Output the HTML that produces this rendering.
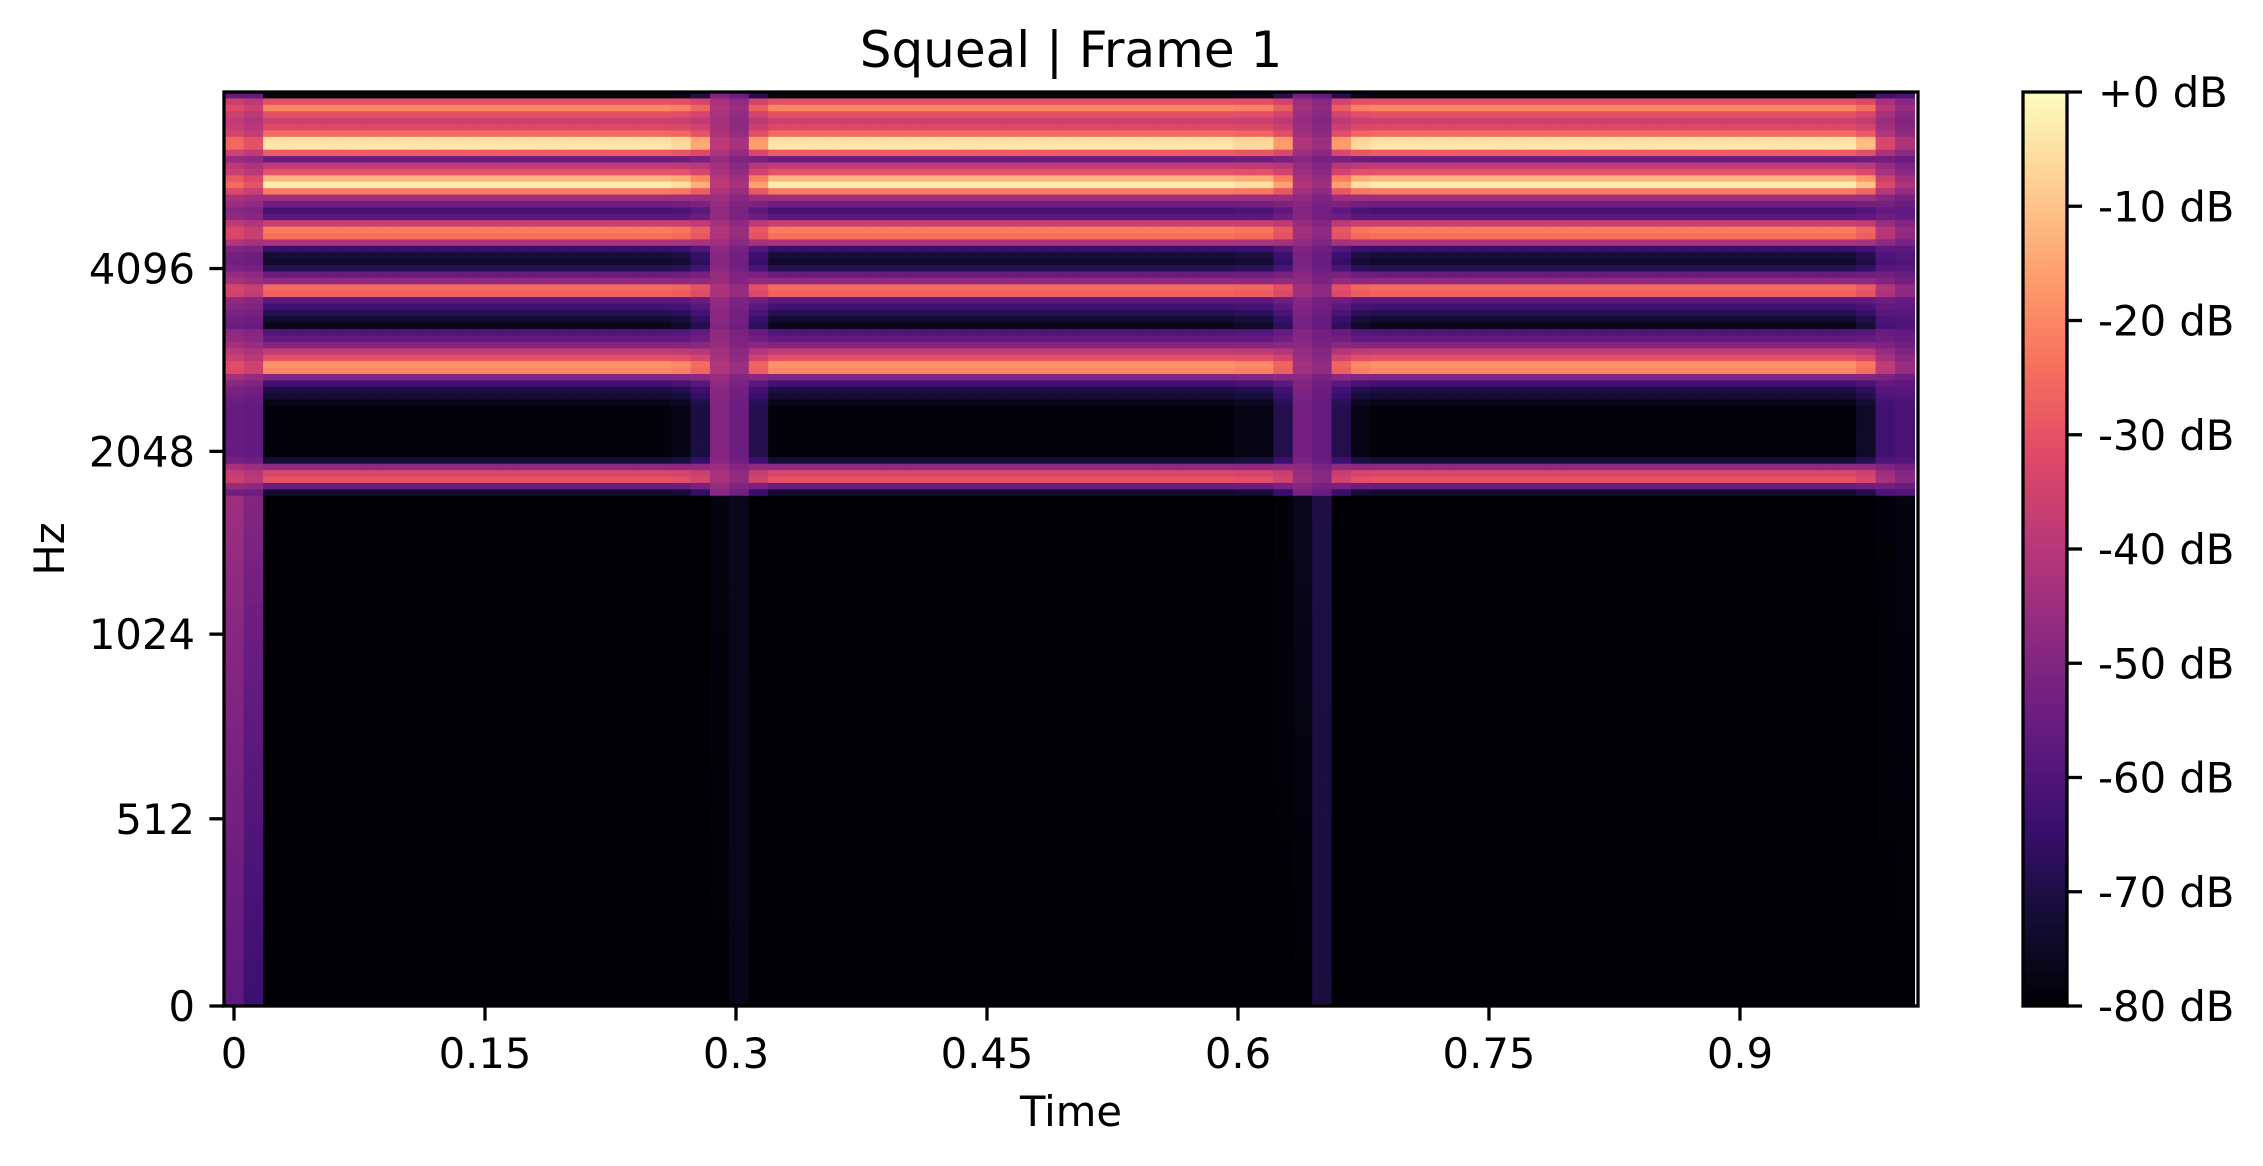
<!DOCTYPE html>
<html><head><meta charset="utf-8"><style>
html,body{margin:0;padding:0;background:#fff;}
svg{display:block;font-family:"DejaVu Sans","Liberation Sans",sans-serif;}
</style></head><body>
<svg id="fig" width="2263" height="1166" viewBox="0 0 2263 1166" xmlns="http://www.w3.org/2000/svg">
<defs>
<linearGradient id="magma" x1="0" y1="1" x2="0" y2="0">
<stop offset="0" stop-color="#000004"/><stop offset="0.1" stop-color="#140e36"/><stop offset="0.2" stop-color="#3b0f70"/><stop offset="0.3" stop-color="#641a80"/><stop offset="0.4" stop-color="#8c2981"/><stop offset="0.5" stop-color="#b73779"/><stop offset="0.6" stop-color="#de4968"/><stop offset="0.7" stop-color="#f7705c"/><stop offset="0.8" stop-color="#fe9f6d"/><stop offset="0.9" stop-color="#fecf92"/><stop offset="1" stop-color="#fcfdbf"/>
</linearGradient>
<clipPath id="plotclip"><rect x="224" y="92" width="1694" height="914"/></clipPath>
</defs>
<text x="1071" y="67" font-size="50" text-anchor="middle">Squeal | Frame 1</text>
<g id="heat" clip-path="url(#plotclip)"></g>
<rect x="224" y="92" width="1694" height="914" fill="none" stroke="#000" stroke-width="3.3"/>
<g id="xaxis"></g>
<g id="yaxis"></g>
<text x="1071" y="1126" font-size="41.7" text-anchor="middle">Time</text>
<text x="64" y="549" font-size="41.7" text-anchor="middle" transform="rotate(-90 64 549)">Hz</text>
<rect x="2023" y="92" width="44" height="914" fill="url(#magma)" stroke="#000" stroke-width="3.3"/>
<g id="cbar"></g>
</svg>
<script>
// ---- data ----
var xTicks = [0, 0.15, 0.3, 0.45, 0.6, 0.75, 0.9];
var xTickLabels = ["0", "0.15", "0.3", "0.45", "0.6", "0.75", "0.9"];
var yTicks = [0, 512, 1024, 2048, 4096];
var yTickLabels = ["0", "512", "1024", "2048", "4096"];
var cbarTicks = [0, -10, -20, -30, -40, -50, -60, -70, -80];
var cbarLabels = ["+0 dB", "-10 dB", "-20 dB", "-30 dB", "-40 dB", "-50 dB", "-60 dB", "-70 dB", "-80 dB"];
var nFrames = 87;
var nMels = 128;
// steady-state dB profile, from the top mel bin downward
var steadyProfile = [-78,-30,-20,-30,-36,-32,-25,-5,-4,-28,-55,-38,-30,-12,-3,-22,-45,-54,-62,-58,-36,-22,-24,-42,-65,-72,-74,-68,-55,-48,-25,-27,-58,-63,-68,-73,-76,-60,-57,-50,-38,-30,-18,-20,-50,-63,-70,-73,-77,-79,-79,-79,-79,-79,-79,-79,-79,-72,-48,-33,-30,-55,-73];
// per-frame blend toward a flat level (transitions)
var frameMix = [0.6,0.65,0,0,0,0,0,0,0,0,0,0,0,0,0,0,0,0,0,0,0,0,0,0.05,0.25,0.85,0.85,0.3,0,0,0,0,0,0,0,0,0,0,0,0,0,0,0,0,0,0,0,0,0,0,0,0,0.05,0.05,0.3,0.85,0.85,0.3,0.05,0,0,0,0,0,0,0,0,0,0,0,0,0,0,0,0,0,0,0,0,0,0,0,0,0,0.15,0.6,0.75];
var frameMixLevel = [-40,-44,-45,-45,-45,-45,-45,-45,-45,-45,-45,-45,-45,-45,-45,-45,-45,-45,-45,-45,-45,-45,-45,-45,-45,-45,-50,-45,-45,-45,-45,-45,-45,-45,-45,-45,-45,-45,-45,-45,-45,-45,-45,-45,-45,-45,-45,-45,-45,-45,-45,-45,-45,-45,-45,-48,-52,-45,-45,-45,-45,-45,-45,-45,-45,-45,-45,-45,-45,-45,-45,-45,-45,-45,-45,-45,-45,-45,-45,-45,-45,-45,-45,-45,-48,-52,-55];
// low-frequency region levels per frame (at top and bottom of that region)
var lowTop = [-45,-50,-80,-80,-80,-80,-80,-80,-80,-80,-80,-80,-80,-80,-80,-80,-80,-80,-80,-80,-80,-80,-80,-80,-80,-78,-76,-80,-80,-80,-80,-80,-80,-80,-80,-80,-80,-80,-80,-80,-80,-80,-80,-80,-80,-80,-80,-80,-80,-80,-80,-80,-80,-80,-79,-76,-70,-80,-80,-80,-80,-80,-80,-80,-80,-80,-80,-80,-80,-80,-80,-80,-80,-80,-80,-80,-80,-80,-80,-80,-80,-80,-80,-80,-80,-79,-78];
var lowBottom = [-57,-64,-80,-80,-80,-80,-80,-80,-80,-80,-80,-80,-80,-80,-80,-80,-80,-80,-80,-80,-80,-80,-80,-80,-80,-80,-77,-80,-80,-80,-80,-80,-80,-80,-80,-80,-80,-80,-80,-80,-80,-80,-80,-80,-80,-80,-80,-80,-80,-80,-80,-80,-80,-80,-80,-80,-71,-80,-80,-80,-80,-80,-80,-80,-80,-80,-80,-80,-80,-80,-80,-80,-80,-80,-80,-80,-80,-80,-80,-80,-80,-80,-80,-80,-80,-80,-80];

// ---- scales ----
var PL = 224, PR = 1918, PT = 92, PB = 1006;
var frameDur = 256 / 22050;
function xScale(t) { return 234 + t * 1673.3; }
function symlogUnits(f) { return f <= 1000 ? 2 * f / 1000 : 2 + Math.log2(f / 1000); }
function yScale(f) { return PB - symlogUnits(f) * 182.8; }
var logstep = Math.log(6.4) / 27;
function hzToMel(f) { return f < 1000 ? f / (200 / 3) : 15 + Math.log(f / 1000) / logstep; }
function melToHz(m) { return m < 15 ? m * 200 / 3 : 1000 * Math.exp((m - 15) * logstep); }
var magma = [[0,0,0,4],[0.1,20,14,54],[0.2,59,15,112],[0.3,100,26,128],[0.4,140,41,129],[0.5,183,55,121],[0.6,222,73,104],[0.7,247,112,92],[0.8,254,159,109],[0.9,254,207,146],[1,252,253,191]];
function color(db) {
  var t = Math.max(0, Math.min(1, (db + 80) / 80));
  for (var i = 1; i < magma.length; i++) {
    if (t <= magma[i][0]) {
      var a = magma[i-1], b = magma[i], u = (t - a[0]) / (b[0] - a[0]);
      return 'rgb(' + Math.round(a[1]+(b[1]-a[1])*u) + ',' + Math.round(a[2]+(b[2]-a[2])*u) + ',' + Math.round(a[3]+(b[3]-a[3])*u) + ')';
    }
  }
  return 'rgb(252,253,191)';
}
function cellValue(f, r) {
  if (r < steadyProfile.length) {
    return steadyProfile[r] * (1 - frameMix[f]) + frameMixLevel[f] * frameMix[f];
  }
  var u = (r - steadyProfile.length) / (nMels - 1 - steadyProfile.length);
  return lowTop[f] + (lowBottom[f] - lowTop[f]) * u;
}

var NS = 'http://www.w3.org/2000/svg';
var heat = document.getElementById('heat');
var melMax = hzToMel(8000);
var edgesY = [];
for (var k = 0; k <= nMels; k++) edgesY.push(yScale(melToHz(melMax * k / nMels)));
for (var f = 0; f < nFrames; f++) {
  var x0 = xScale((f - 0.5) * frameDur), x1 = xScale((f + 0.5) * frameDur);
  for (var r = 0; r < nMels; r++) {
    var bin = nMels - 1 - r;
    var yTop = edgesY[bin + 1], yBot = edgesY[bin];
    var rc = document.createElementNS(NS, 'rect');
    rc.setAttribute('x', x0.toFixed(2));
    rc.setAttribute('y', yTop.toFixed(2));
    rc.setAttribute('width', (x1 - x0 + 0.6).toFixed(2));
    rc.setAttribute('height', (yBot - yTop + 0.6).toFixed(2));
    rc.setAttribute('fill', color(cellValue(f, r)));
    
    
    heat.appendChild(rc);
  }
}

function line(g, x1, y1, x2, y2, name) {
  var l = document.createElementNS(NS, 'line');
  l.setAttribute('x1', x1); l.setAttribute('y1', y1); l.setAttribute('x2', x2); l.setAttribute('y2', y2);
  l.setAttribute('stroke', '#000'); l.setAttribute('stroke-width', '3.3');
  
  
  g.appendChild(l);
}
function text(g, x, y, s, anchor, name) {
  var t = document.createElementNS(NS, 'text');
  t.setAttribute('x', x); t.setAttribute('y', y); t.setAttribute('font-size', '41.7');
  t.setAttribute('text-anchor', anchor); t.textContent = s;
  
  
  g.appendChild(t);
}
var xg = document.getElementById('xaxis');
xTicks.forEach(function (v, i) {
  var x = xScale(v);
  line(xg, x, PB, x, PB + 14.6, 'x-tick');
  text(xg, x, 1068, xTickLabels[i], 'middle', 'x-tick-label');
});
var yg = document.getElementById('yaxis');
yTicks.forEach(function (v, i) {
  var y = yScale(v);
  line(yg, PL - 14.6, y, PL, y, 'y-tick');
  text(yg, 195, y + 15, yTickLabels[i], 'end', 'y-tick-label');
});
var cg = document.getElementById('cbar');
cbarTicks.forEach(function (v, i) {
  var y = PT + (0 - v) / 80 * (PB - PT);
  line(cg, 2067, y, 2082, y, 'colorbar-tick');
  text(cg, 2098, y + 15, cbarLabels[i], 'start', 'colorbar-tick-label');
});
</script>
</body></html>
